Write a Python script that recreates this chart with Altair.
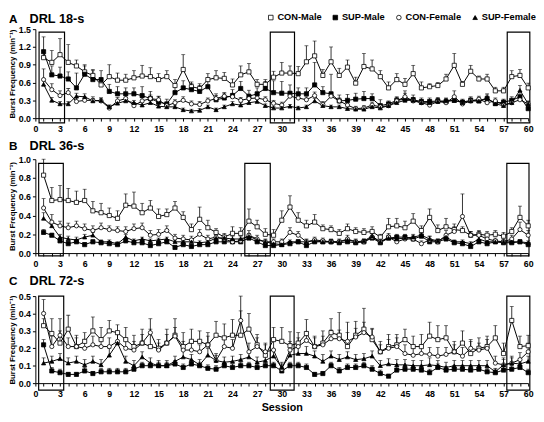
import altair as alt
import pandas as pd

FONT = "Liberation Sans"
series_names = ["CON-Male", "SUP-Male", "CON-Female", "SUP-Female"]
series_shapes = ["square", "square", "circle", "triangle-up"]
series_fills = ["white", "black", "white", "black"]
series_strokes = ["black", "black", "black", "black"]
panel_letters = ["A", "B", "C"]
panel_labels = ["DRL 18-s", "DRL 36-s", "DRL 72-s"]
sessions = list(range(1, 61))

# ---------------- Panel A (DRL 18-s) ----------------
a_con_m = [1.02,0.94,1.07,0.94,0.88,0.78,0.72,0.56,0.70,0.64,
           0.64,0.68,0.71,0.70,0.65,0.70,0.55,0.82,0.53,0.50,
           0.65,0.68,0.67,0.56,0.73,0.78,0.57,0.57,0.69,0.76,
           0.76,0.75,0.95,1.05,0.72,0.95,0.72,0.86,0.59,0.87,
           0.83,0.70,0.51,0.65,0.57,0.75,0.51,0.53,0.55,0.66,
           0.89,0.57,0.79,0.66,0.66,0.46,0.46,0.70,0.72,0.51]
a_sup_m = [1.12,0.73,0.71,0.66,0.51,0.74,0.65,0.65,0.45,0.41,
           0.41,0.41,0.38,0.33,0.27,0.24,0.43,0.51,0.48,0.45,
           0.53,0.31,0.34,0.38,0.50,0.37,0.41,0.50,0.43,0.42,
           0.42,0.41,0.41,0.56,0.43,0.41,0.29,0.30,0.32,0.33,
           0.33,0.21,0.24,0.30,0.32,0.31,0.28,0.28,0.29,0.28,
           0.30,0.27,0.30,0.29,0.33,0.25,0.27,0.30,0.36,0.16]
a_con_f = [0.65,0.48,0.38,0.43,0.28,0.30,0.30,0.29,0.17,0.29,
           0.33,0.21,0.29,0.33,0.31,0.21,0.26,0.30,0.24,0.23,
           0.29,0.33,0.37,0.36,0.30,0.33,0.34,0.31,0.25,0.22,
           0.37,0.34,0.31,0.38,0.23,0.37,0.29,0.22,0.16,0.17,
           0.22,0.19,0.21,0.29,0.36,0.29,0.26,0.22,0.28,0.26,
           0.36,0.24,0.29,0.32,0.26,0.29,0.22,0.26,0.31,0.24]
a_sup_f = [0.57,0.30,0.24,0.24,0.37,0.36,0.29,0.30,0.19,0.25,
           0.29,0.26,0.22,0.26,0.20,0.19,0.19,0.14,0.12,0.13,
           0.19,0.14,0.19,0.24,0.22,0.26,0.28,0.21,0.17,0.17,
           0.20,0.17,0.19,0.29,0.21,0.19,0.19,0.16,0.15,0.15,
           0.19,0.17,0.21,0.26,0.30,0.30,0.26,0.26,0.28,0.29,
           0.30,0.26,0.29,0.29,0.34,0.24,0.21,0.26,0.47,0.24]
a_con_m_sem = [0.12,0.20,0.27,0.30,0.10,0.12,0.10,0.08,0.20,0.12,
               0.10,0.12,0.18,0.15,0.10,0.10,0.10,0.25,0.08,0.08,
               0.10,0.12,0.10,0.10,0.15,0.14,0.08,0.08,0.10,0.18,
               0.12,0.12,0.27,0.25,0.10,0.25,0.12,0.12,0.10,0.22,
               0.15,0.10,0.10,0.10,0.10,0.14,0.10,0.05,0.05,0.08,
               0.20,0.05,0.10,0.05,0.08,0.06,0.06,0.10,0.10,0.08]
a_sup_m_sem = [0.25,0.15,0.15,0.12,0.25,0.14,0.15,0.15,0.12,0.12,
               0.10,0.10,0.15,0.12,0.10,0.08,0.10,0.12,0.10,0.10,
               0.12,0.10,0.08,0.10,0.12,0.10,0.10,0.12,0.20,0.20,
               0.14,0.10,0.10,0.38,0.10,0.33,0.10,0.10,0.10,0.12,
               0.08,0.10,0.05,0.06,0.10,0.08,0.06,0.06,0.06,0.06,
               0.06,0.05,0.06,0.06,0.08,0.05,0.05,0.06,0.08,0.05]
a_con_f_sem = [0.18,0.10,0.08,0.07,0.06,0.06,0.06,0.05,0.05,0.06,
               0.06,0.05,0.06,0.06,0.05,0.05,0.05,0.06,0.05,0.05,
               0.05,0.05,0.06,0.06,0.05,0.05,0.06,0.05,0.05,0.05,
               0.06,0.05,0.05,0.06,0.05,0.06,0.05,0.05,0.04,0.04,
               0.05,0.04,0.05,0.06,0.10,0.06,0.05,0.05,0.05,0.05,
               0.10,0.05,0.05,0.05,0.05,0.05,0.04,0.05,0.06,0.05]
a_sup_f_sem = [0.08,0.05,0.04,0.04,0.05,0.05,0.04,0.04,0.03,0.04,
               0.04,0.04,0.04,0.04,0.03,0.03,0.03,0.03,0.03,0.03,
               0.03,0.03,0.03,0.04,0.04,0.04,0.04,0.03,0.03,0.03,
               0.03,0.03,0.03,0.04,0.03,0.03,0.03,0.03,0.03,0.03,
               0.03,0.03,0.03,0.04,0.04,0.04,0.04,0.04,0.04,0.04,
               0.04,0.04,0.04,0.04,0.05,0.04,0.03,0.04,0.08,0.04]

# ---------------- Panel B (DRL 36-s) ----------------
b_con_m = [0.83,0.56,0.57,0.56,0.54,0.56,0.45,0.43,0.40,0.37,
           0.51,0.50,0.43,0.48,0.39,0.41,0.48,0.38,0.25,0.36,
           0.27,0.22,0.17,0.21,0.21,0.34,0.28,0.20,0.19,0.35,
           0.49,0.35,0.29,0.33,0.26,0.25,0.21,0.26,0.23,0.22,
           0.23,0.17,0.28,0.29,0.27,0.34,0.24,0.38,0.24,0.28,
           0.25,0.24,0.19,0.20,0.19,0.20,0.18,0.23,0.38,0.29]
b_sup_m = [0.22,0.19,0.13,0.10,0.12,0.09,0.12,0.11,0.10,0.09,
           0.13,0.11,0.11,0.08,0.10,0.12,0.06,0.09,0.07,0.09,
           0.09,0.12,0.12,0.12,0.12,0.16,0.12,0.08,0.08,0.09,
           0.10,0.12,0.08,0.12,0.12,0.12,0.11,0.12,0.11,0.12,
           0.16,0.11,0.16,0.17,0.17,0.15,0.18,0.12,0.12,0.15,
           0.11,0.10,0.07,0.12,0.10,0.12,0.11,0.11,0.12,0.09]
b_con_f = [0.48,0.33,0.29,0.27,0.29,0.26,0.24,0.27,0.25,0.24,
           0.23,0.26,0.27,0.19,0.20,0.24,0.16,0.15,0.14,0.20,
           0.15,0.17,0.15,0.12,0.13,0.19,0.15,0.12,0.12,0.12,
           0.22,0.19,0.12,0.14,0.13,0.12,0.12,0.15,0.12,0.12,
           0.17,0.12,0.17,0.12,0.15,0.15,0.10,0.14,0.12,0.19,
           0.23,0.39,0.19,0.19,0.15,0.13,0.12,0.15,0.25,0.19]
b_sup_f = [0.37,0.29,0.17,0.15,0.14,0.17,0.19,0.12,0.12,0.10,
           0.17,0.13,0.15,0.13,0.14,0.15,0.12,0.12,0.12,0.11,
           0.12,0.16,0.16,0.15,0.15,0.18,0.14,0.12,0.10,0.09,
           0.12,0.12,0.12,0.13,0.12,0.12,0.12,0.14,0.12,0.13,
           0.18,0.12,0.16,0.15,0.16,0.17,0.19,0.15,0.13,0.17,
           0.12,0.12,0.10,0.15,0.12,0.12,0.12,0.12,0.12,0.11]
b_con_m_sem = [0.17,0.14,0.15,0.13,0.12,0.12,0.10,0.10,0.08,0.08,
               0.12,0.15,0.10,0.08,0.08,0.06,0.07,0.06,0.06,0.13,
               0.08,0.04,0.04,0.07,0.06,0.13,0.07,0.06,0.06,0.10,
               0.12,0.08,0.06,0.08,0.04,0.04,0.04,0.05,0.04,0.04,
               0.05,0.03,0.09,0.08,0.07,0.08,0.05,0.09,0.06,0.09,
               0.06,0.04,0.04,0.04,0.04,0.04,0.04,0.04,0.12,0.06]
b_sup_m_sem = [0.03,0.02,0.02,0.02,0.02,0.02,0.02,0.02,0.02,0.02,
               0.02,0.02,0.02,0.02,0.02,0.02,0.02,0.02,0.02,0.02,
               0.02,0.02,0.02,0.02,0.02,0.03,0.02,0.02,0.02,0.02,
               0.02,0.02,0.02,0.02,0.02,0.02,0.02,0.02,0.02,0.02,
               0.03,0.02,0.03,0.03,0.03,0.02,0.03,0.02,0.02,0.03,
               0.02,0.02,0.02,0.02,0.02,0.02,0.02,0.02,0.02,0.02]
b_con_f_sem = [0.10,0.08,0.05,0.05,0.05,0.05,0.05,0.05,0.04,0.04,
               0.05,0.05,0.05,0.05,0.05,0.05,0.04,0.04,0.04,0.05,
               0.04,0.04,0.04,0.03,0.03,0.05,0.04,0.03,0.03,0.03,
               0.05,0.04,0.03,0.03,0.03,0.03,0.03,0.04,0.03,0.03,
               0.04,0.03,0.04,0.03,0.04,0.04,0.03,0.04,0.03,0.05,
               0.05,0.24,0.04,0.04,0.03,0.03,0.03,0.04,0.08,0.05]
b_sup_f_sem = [0.06,0.04,0.03,0.03,0.03,0.03,0.03,0.02,0.02,0.02,
               0.03,0.02,0.02,0.02,0.02,0.02,0.02,0.02,0.02,0.02,
               0.02,0.03,0.03,0.03,0.03,0.03,0.02,0.02,0.02,0.02,
               0.02,0.02,0.02,0.02,0.02,0.02,0.02,0.02,0.02,0.02,
               0.03,0.02,0.03,0.03,0.03,0.03,0.03,0.03,0.02,0.03,
               0.02,0.02,0.02,0.03,0.02,0.02,0.02,0.02,0.02,0.02]

# ---------------- Panel C (DRL 72-s) ----------------
c_con_m = [0.33,0.285,0.23,0.31,0.21,0.24,0.30,0.25,0.30,0.29,
           0.25,0.21,0.23,0.21,0.20,0.23,0.275,0.21,0.24,0.24,
           0.22,0.275,0.26,0.275,0.275,0.31,0.22,0.16,0.25,0.24,
           0.215,0.23,0.285,0.21,0.23,0.29,0.275,0.21,0.275,0.31,
           0.25,0.18,0.21,0.22,0.25,0.21,0.21,0.27,0.25,0.26,
           0.18,0.23,0.17,0.20,0.21,0.26,0.17,0.36,0.21,0.215]
c_sup_m = [0.22,0.07,0.06,0.05,0.05,0.07,0.055,0.065,0.065,0.065,
           0.065,0.08,0.10,0.10,0.10,0.10,0.11,0.09,0.11,0.10,
           0.085,0.08,0.10,0.09,0.10,0.10,0.09,0.10,0.10,0.07,
           0.10,0.10,0.09,0.05,0.055,0.10,0.07,0.09,0.09,0.10,
           0.08,0.055,0.04,0.075,0.08,0.08,0.075,0.06,0.09,0.075,
           0.08,0.08,0.075,0.08,0.065,0.06,0.075,0.08,0.09,0.06]
c_con_f = [0.40,0.21,0.275,0.21,0.21,0.20,0.22,0.21,0.21,0.24,
           0.20,0.19,0.23,0.29,0.19,0.23,0.27,0.19,0.19,0.18,
           0.22,0.13,0.21,0.20,0.36,0.18,0.21,0.18,0.19,0.08,
           0.19,0.21,0.245,0.21,0.22,0.255,0.255,0.24,0.265,0.29,
           0.265,0.18,0.20,0.21,0.17,0.16,0.17,0.165,0.155,0.165,
           0.18,0.155,0.20,0.19,0.20,0.115,0.105,0.115,0.135,0.18]
c_sup_f = [0.115,0.125,0.14,0.115,0.125,0.105,0.125,0.105,0.16,0.23,
           0.125,0.10,0.15,0.115,0.10,0.10,0.125,0.15,0.135,0.105,
           0.16,0.13,0.12,0.125,0.135,0.15,0.12,0.13,0.155,0.09,
           0.16,0.17,0.17,0.155,0.125,0.155,0.135,0.15,0.135,0.14,
           0.155,0.10,0.11,0.105,0.105,0.10,0.10,0.105,0.10,0.09,
           0.10,0.10,0.10,0.10,0.10,0.065,0.105,0.115,0.11,0.125]
c_con_m_sem = [0.04,0.085,0.07,0.08,0.065,0.05,0.08,0.07,0.06,0.045,
               0.07,0.065,0.08,0.10,0.05,0.08,0.095,0.08,0.07,0.06,
               0.07,0.08,0.08,0.09,0.14,0.09,0.06,0.06,0.07,0.08,
               0.08,0.06,0.08,0.06,0.07,0.08,0.13,0.14,0.08,0.12,
               0.06,0.06,0.07,0.06,0.06,0.06,0.07,0.08,0.08,0.07,
               0.06,0.07,0.08,0.06,0.06,0.07,0.06,0.08,0.06,0.06]
c_sup_m_sem = [0.03,0.02,0.02,0.01,0.01,0.02,0.01,0.02,0.02,0.02,
               0.02,0.02,0.02,0.02,0.02,0.02,0.02,0.02,0.02,0.02,
               0.02,0.02,0.02,0.02,0.02,0.02,0.02,0.02,0.02,0.02,
               0.02,0.02,0.02,0.01,0.01,0.02,0.02,0.02,0.02,0.02,
               0.02,0.02,0.01,0.02,0.02,0.02,0.02,0.02,0.02,0.02,
               0.02,0.02,0.02,0.02,0.02,0.02,0.02,0.02,0.03,0.02]
c_con_f_sem = [0.08,0.06,0.095,0.05,0.05,0.05,0.05,0.05,0.05,0.05,
               0.05,0.05,0.05,0.08,0.04,0.05,0.05,0.05,0.04,0.04,
               0.05,0.04,0.05,0.05,0.14,0.05,0.05,0.05,0.05,0.04,
               0.05,0.05,0.05,0.05,0.05,0.05,0.05,0.05,0.05,0.06,
               0.05,0.04,0.05,0.05,0.05,0.04,0.05,0.04,0.05,0.04,
               0.04,0.05,0.04,0.04,0.05,0.04,0.04,0.04,0.04,0.05]
c_sup_f_sem = [0.03,0.03,0.03,0.03,0.03,0.03,0.03,0.03,0.04,0.05,
               0.03,0.03,0.03,0.03,0.03,0.03,0.03,0.04,0.03,0.03,
               0.04,0.03,0.03,0.03,0.03,0.03,0.03,0.03,0.04,0.02,
               0.02,0.04,0.04,0.03,0.04,0.03,0.03,0.03,0.03,0.03,
               0.03,0.03,0.03,0.03,0.03,0.03,0.03,0.04,0.03,0.03,
               0.03,0.03,0.03,0.03,0.03,0.02,0.03,0.03,0.03,0.03]

# outlined session windows (x from, x to, y from, y to)
a_boxes = {"x0": [0.45, 28.6, 57.45], "x1": [3.55, 31.55, 60.2], "y0": [-0.08] * 3, "y1": [1.45] * 3}
b_boxes = {"x0": [0.4, 25.5, 57.4], "x1": [3.4, 28.6, 60.1], "y0": [-0.03] * 3, "y1": [0.955] * 3}
c_boxes = {"x0": [0.4, 28.6, 57.4], "x1": [3.45, 31.5, 60.2], "y0": [-0.04] * 3, "y1": [0.5] * 3}


def panel(idx, means, sems, ymax, yvals, boxes, height, legend, xtitle, title_y):
    rows = []
    for name, m, s in zip(series_names, means, sems):
        for ses, mv, sv in zip(sessions, m, s):
            rows.append({"session": ses, "series": name, "mean": mv, "hi": mv + sv})
    df = pd.DataFrame(rows)

    xaxis = alt.Axis(values=list(range(0, 61)),
                     labelExpr="datum.value % 3 == 0 ? datum.label : ''",
                     labelOverlap=False, labelFlush=False, labelAngle=0,
                     labelFont=FONT, labelFontSize=9, labelFontWeight="bold", labelColor="black",
                     tickSize=3, tickColor="black", domainColor="black", grid=False,
                     labelPadding=4, title=xtitle, titleFont=FONT, titleFontSize=11,
                     titleFontWeight="bold", titleColor="black", titlePadding=3)
    yaxis = alt.Axis(values=yvals, format=".1f", labelFont=FONT, labelFontSize=9,
                     labelFontWeight="bold", labelColor="black", tickSize=3, tickColor="black",
                     domainColor="black", grid=False, labelPadding=2,
                     title="Burst Frequency (min⁻¹)", titleFont=FONT, titleFontSize=8,
                     titleFontWeight="bold", titleColor="black", titlePadding=2)
    xs = alt.Scale(domain=[0, 60], nice=False, zero=False)
    ys = alt.Scale(domain=[0, ymax], nice=False, zero=False)

    base = alt.Chart(df)
    X = alt.X("session:Q", scale=xs, axis=xaxis)
    rules = base.mark_rule(color="black", strokeWidth=0.8).encode(
        x=X, y=alt.Y("mean:Q", scale=ys, axis=yaxis), y2="hi:Q")
    caps = base.mark_tick(color="black", thickness=0.8, size=4, orient="horizontal").encode(
        x=X, y=alt.Y("hi:Q", scale=ys, axis=yaxis))
    lines = base.mark_line(color="black", strokeWidth=1).encode(
        x=X, y=alt.Y("mean:Q", scale=ys, axis=yaxis), detail="series:N")
    points = base.mark_point(filled=True, strokeWidth=0.8, size=18, opacity=1).encode(
        x=X, y=alt.Y("mean:Q", scale=ys, axis=yaxis),
        shape=alt.Shape("series:N", scale=alt.Scale(domain=series_names, range=series_shapes), legend=legend),
        fill=alt.Fill("series:N", scale=alt.Scale(domain=series_names, range=series_fills), legend=legend),
        stroke=alt.Stroke("series:N", scale=alt.Scale(domain=series_names, range=series_strokes), legend=legend))
    box = alt.Chart(pd.DataFrame(boxes)).mark_rect(fill="white", fillOpacity=0, stroke="black",
                                                  strokeWidth=1.2).encode(
        x=alt.X("x0:Q", scale=xs, axis=xaxis), x2="x1:Q",
        y=alt.Y("y0:Q", scale=ys, axis=yaxis), y2="y1:Q")
    tdf = pd.DataFrame({"letter": [panel_letters[idx]], "label": [panel_labels[idx]]})
    t1 = alt.Chart(tdf).mark_text(align="left", baseline="alphabetic", font=FONT, fontSize=12,
                                  fontWeight="bold", color="black").encode(
        text="letter:N", x=alt.value(-27), y=alt.value(title_y))
    t2 = alt.Chart(tdf).mark_text(align="left", baseline="alphabetic", font=FONT, fontSize=13,
                                  fontWeight="bold", color="black").encode(
        text="label:N", x=alt.value(-6), y=alt.value(title_y))
    return alt.layer(box, rules, caps, lines, points, t1, t2).properties(width=504, height=height)


leg = alt.Legend(title=None, orient="none", legendX=236, legendY=-17, direction="horizontal",
                 labelFont=FONT, labelFontSize=9.5, labelFontWeight="bold", labelColor="black",
                 symbolSize=22, symbolStrokeWidth=0.8,
                 columnPadding=9, labelOffset=2, padding=0)

pa = panel(0, [a_con_m, a_sup_m, a_con_f, a_sup_f],
           [a_con_m_sem, a_sup_m_sem, a_con_f_sem, a_sup_f_sem],
           1.5, [0, 0.3, 0.6, 0.9, 1.2, 1.5], a_boxes, 91, leg, None, -6)
pb = panel(1, [b_con_m, b_sup_m, b_con_f, b_sup_f],
           [b_con_m_sem, b_sup_m_sem, b_con_f_sem, b_sup_f_sem],
           1.0, [0, 0.2, 0.4, 0.6, 0.8, 1.0], b_boxes, 96, None, None, -9)
pc = panel(2, [c_con_m, c_sup_m, c_con_f, c_sup_f],
           [c_con_m_sem, c_sup_m_sem, c_con_f_sem, c_sup_f_sem],
           0.5, [0, 0.1, 0.2, 0.3, 0.4, 0.5], c_boxes, 89, None, "Session", -11)

chart = alt.vconcat(pa, pb, pc, spacing=7).resolve_scale(
    shape="independent", fill="independent", stroke="independent").properties(
    padding=0, background="white").configure_view(stroke=None)

chart.save("out.html", embed_options={"renderer": "svg", "actions": False})
